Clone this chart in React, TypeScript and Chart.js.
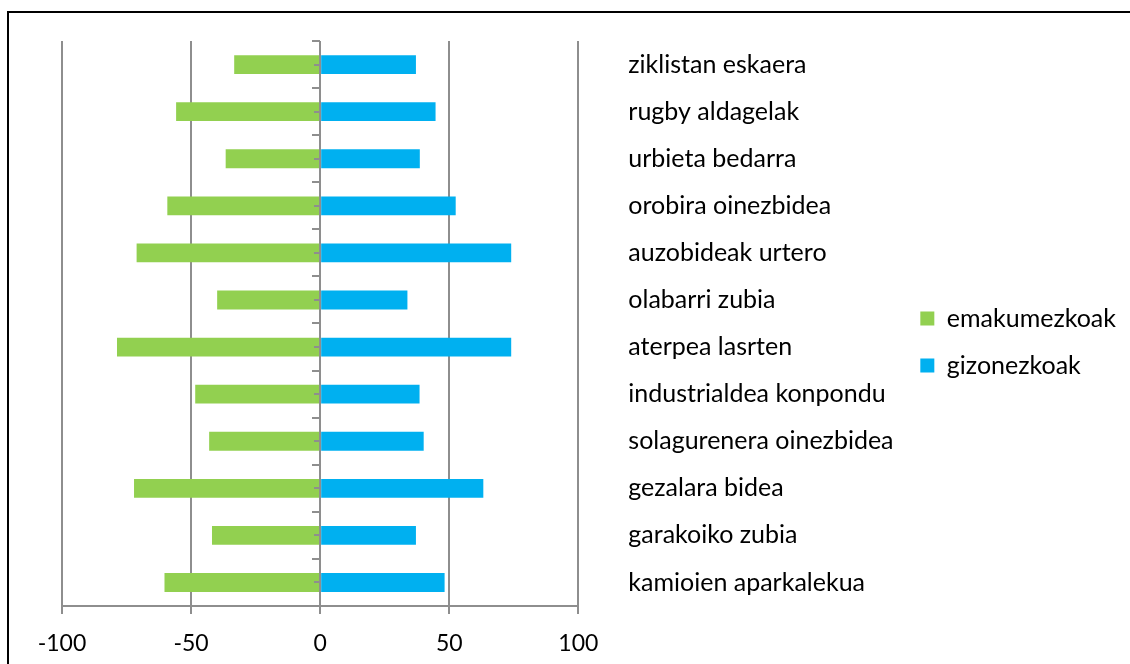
import React, { useEffect, useRef } from "react";
import { Chart, registerables } from "chart.js";

Chart.register(...registerables);

const categories = [
  "ziklistan eskaera",
  "rugby aldagelak",
  "urbieta bedarra",
  "orobira oinezbidea",
  "auzobideak urtero",
  "olabarri zubia",
  "aterpea lasrten",
  "industrialdea konpondu",
  "solagurenera oinezbidea",
  "gezalara bidea",
  "garakoiko zubia",
  "kamioien aparkalekua",
];
const emakumezkoak = [-33.3, -55.8, -36.6, -59.2, -71.1, -39.9, -78.7, -48.4, -43.0, -72.1, -41.9, -60.3];
const gizonezkoak = [37.1, 44.7, 38.6, 52.5, 74.0, 33.8, 74.0, 38.5, 40.1, 63.2, 37.1, 48.2];
const xMin = -100;
const xMax = 100;
const xStep = 50;

const GREEN = "#92D050";
const BLUE = "#00B0F0";
const GRID = "#8e8e8e";
const FONT = "Lato";

const zeroAxisPlugin = {
  id: "zeroAxis",
  afterDatasetsDraw(chart: any) {
    const { ctx, chartArea, scales } = chart;
    const x = scales.x;
    const y = scales.y;
    const x0 = Math.round(x.getPixelForValue(0));
    const step = y.getPixelForValue(1) - y.getPixelForValue(0);
    ctx.save();
    ctx.strokeStyle = GRID;
    ctx.lineWidth = 2;
    ctx.beginPath();
    ctx.moveTo(x0, chartArea.top);
    ctx.lineTo(x0, chartArea.bottom);
    for (let i = 0; i < categories.length; i++) {
      const c = y.getPixelForValue(i);
      const b = Math.round(c - step / 2);
      ctx.moveTo(x0 - 8, b);
      ctx.lineTo(x0, b);
      ctx.moveTo(x0 - 6, Math.round(c));
      ctx.lineTo(x0, Math.round(c));
    }
    ctx.stroke();
    ctx.restore();
  },
};

export default function App() {
  const ref = useRef<HTMLCanvasElement | null>(null);

  useEffect(() => {
    if (!ref.current) return;
    const chart = new Chart(ref.current, {
      type: "bar",
      data: {
        labels: categories,
        datasets: [
          {
            label: "emakumezkoak",
            data: emakumezkoak,
            backgroundColor: GREEN,
            borderWidth: 0,
            categoryPercentage: 1,
            barPercentage: 0.4,
          },
          {
            label: "gizonezkoak",
            data: gizonezkoak,
            backgroundColor: BLUE,
            borderWidth: 0,
            categoryPercentage: 1,
            barPercentage: 0.4,
          },
        ],
      },
      options: {
        indexAxis: "y",
        responsive: false,
        animation: false,
        layout: { padding: { top: 20, left: 62, right: 4, bottom: 0 } },
        plugins: {
          tooltip: { enabled: false },
          legend: {
            position: "right",
            align: "center",
            labels: {
              boxWidth: 14,
              boxHeight: 14,
              padding: 22,
              color: "#000",
              font: { family: FONT, size: 25 },
            },
          },
        },
        scales: {
          x: {
            type: "linear",
            min: xMin,
            max: xMax,
            stacked: true,
            ticks: {
              stepSize: xStep,
              color: "#000",
              padding: 16,
              font: { family: FONT, size: 23 },
            },
            grid: {
              color: GRID,
              lineWidth: 2,
              tickLength: 8,
              drawTicks: true,
            },
            border: { display: true, color: GRID, width: 2 },
            afterFit(scale: any) {
              scale.height = 58;
            },
          },
          y: {
            type: "category",
            position: "right",
            stacked: true,
            grid: {
              display: true,
              color: "rgba(0,0,0,0)",
              drawOnChartArea: false,
              drawTicks: true,
              tickLength: 24,
            },
            border: { display: false },
            ticks: {
              color: "#000",
              padding: 26,
              autoSkip: false,
              font: { family: FONT, size: 25 },
            },
            afterFit(scale: any) {
              scale.width = 320;
            },
          },
        },
      },
      plugins: [zeroAxisPlugin],
    });
    return () => chart.destroy();
  }, []);

  return (
    <div
      style={{
        position: "fixed",
        left: 0,
        top: 0,
        width: 1130,
        height: 664,
        overflow: "hidden",
        background: "#fff",
      }}
    >
      <canvas ref={ref} width={1130} height={664} style={{ display: "block" }} />
      <div
        style={{
          position: "absolute",
          left: 7,
          top: 11,
          width: 1200,
          height: 800,
          borderTop: "2px solid #000",
          borderLeft: "2px solid #000",
          pointerEvents: "none",
        }}
      />
    </div>
  );
}
